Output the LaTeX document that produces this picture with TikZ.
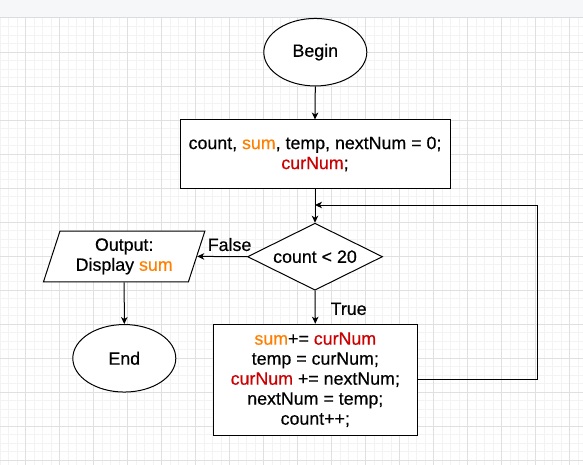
\documentclass[tikz,border=0pt]{standalone}
\usepackage{fontspec}
\setmainfont{Liberation Sans}
\newfontfamily\heavyfont{Liberation Sans}[FakeBold=0.5]
\usetikzlibrary{shapes.geometric,arrows.meta}
\definecolor{orng}{HTML}{FF8000}
\definecolor{rd}{HTML}{CC0000}
\definecolor{minorgrid}{HTML}{F3F3F3}
\definecolor{majorgrid}{HTML}{E0E0E0}
\definecolor{barfill}{HTML}{F6F7F9}
\definecolor{barline}{HTML}{DADCE0}
\begin{document}
\begin{tikzpicture}[x=1pt,y=-1pt,
  every node/.style={font=\heavyfont\fontsize{17.8}{20}\selectfont, align=center, inner sep=0pt},
  shapebox/.style={draw=black, line width=1pt, fill=white},
  oval/.style={shapebox, ellipse, minimum width=103, minimum height=67.5},
  arr/.style={line width=1pt, -{Stealth[length=7pt,width=6.5pt,inset=2pt]}}]
\useasboundingbox (0,0) rectangle (583,465);
% background grid
\fill[white] (0,0) rectangle (583,465);
\foreach \x in {0.3,8.8,...,583} \draw[minorgrid, line width=0.8pt] (\x,18) -- (\x,465);
\foreach \y in {26.8,35.3,...,465} \draw[minorgrid, line width=0.8pt] (0,\y) -- (583,\y);
\foreach \x in {25.3,59.3,...,583} \draw[majorgrid, line width=0.9pt] (\x,18) -- (\x,465);
\foreach \y in {52.3,86.3,...,465} \draw[majorgrid, line width=0.9pt] (0,\y) -- (583,\y);
\fill[barfill] (0,0) rectangle (583,17.3);
\draw[barline, line width=1pt] (0,17.5) -- (583,17.5);
% nodes
\node[oval] (begin) at (315.3,52.2) {Begin};
\node[shapebox, rectangle, minimum width=270, minimum height=68] (init) at (315,154)
  {count, \textcolor{orng}{sum}, temp, nextNum = 0;\\ \textcolor{rd}{curNum};};
\node[shapebox, diamond, aspect=2, minimum width=135, minimum height=67] (cond) at (315,256.7) {count < 20};
\node[shapebox, trapezium, trapezium left angle=71, trapezium right angle=109,
  trapezium stretches=true, minimum width=161.7, minimum height=50.7] (out) at (124.2,256.4)
  {Output:\\ Display \textcolor{orng}{sum}};
\node[oval] (end) at (124.3,358.3) {End};
\node[shapebox, rectangle, minimum width=204, minimum height=111] (loop) at (315.3,379.7)
  {\textcolor{orng}{sum}+= \textcolor{rd}{curNum}\\ temp = curNum;\\ \textcolor{rd}{curNum} += nextNum;\\ nextNum = temp;\\ count++;};
\coordinate (join) at (315,205);
\coordinate (corner) at (537,205);
% connectors
\draw[arr] (begin.south) -- (init.north);
\draw[arr] (init.south) -- (cond.north);
\draw[arr] (cond.west) -- node[pos=0.35, above=5pt] {False} (out.right side);
\draw[arr] (out.center |- out.bottom side) -- (end.north);
\draw[arr] (cond.south) -- node[right=15pt, pos=0.55] {True} (loop.north);
\draw[arr] (loop.east) -| (corner) -- (join);
\end{tikzpicture}
\end{document}
